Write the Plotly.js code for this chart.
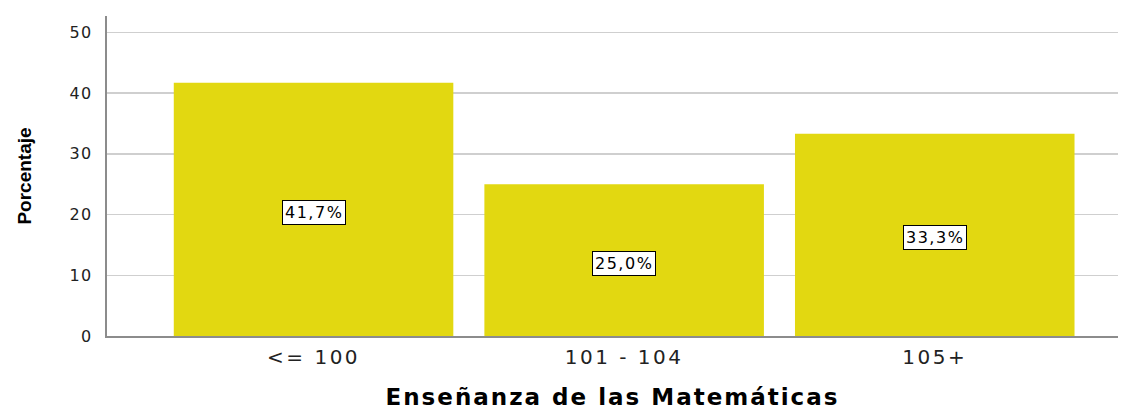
<!DOCTYPE html>
<html>
<head>
<meta charset="utf-8">
<script src="https://cdn.plot.ly/plotly-3.0.1.min.js"></script>
<style>
html,body{margin:0;padding:0;background:#fff;}
#chart{width:1131px;height:410px;}
text.annotation-text{letter-spacing:1.5px;}
.xtick text{letter-spacing:2.5px;}
.ytick text{letter-spacing:1.5px;}
text.xtitle{letter-spacing:2px;}
</style>
</head>
<body>
<div id="chart"></div>
<script>
const categories = ["<= 100", "101 - 104", "105+"];
const values = [41.7, 25.0, 33.3];
const labels = ["41,7%", "25,0%", "33,3%"];
const yTicks = [0, 10, 20, 30, 40, 50];

const trace = {
  type: 'bar',
  x: [0, 1, 2],
  y: values,
  width: 0.9,
  marker: {color: '#E2D811', line: {width: 0}},
  hoverinfo: 'none'
};

const annotations = values.map((v, i) => ({
  x: i, y: v / 2, xref: 'x', yref: 'y',
  text: labels[i], showarrow: false, yshift: -3,
  font: {family: 'DejaVu Sans, sans-serif', size: 16, color: '#000'},
  bgcolor: '#fff', bordercolor: '#000', borderwidth: 1, borderpad: 2
}));

const layout = {
  width: 1131, height: 410,
  margin: {l: 107, r: 13, t: 16, b: 73.5},
  paper_bgcolor: '#fff', plot_bgcolor: '#fff',
  showlegend: false,
  bargap: 0.1,
  xaxis: {
    range: [-0.665, 2.59],
    tickmode: 'array', tickvals: [0, 1, 2], ticktext: categories,
    showgrid: false, zeroline: false,
    showline: true, linecolor: '#8c8c8c', linewidth: 2,
    ticks: 'outside', ticklen: 2, tickcolor: 'rgba(0,0,0,0)',
    tickfont: {family: 'DejaVu Sans, sans-serif', size: 20, color: '#222'},
    title: {text: 'Enseñanza de las Matemáticas', standoff: 22,
      font: {family: 'DejaVu Sans, sans-serif', size: 23, color: '#000', weight: 'bold'}}
  },
  yaxis: {
    range: [0, 52.7],
    tickmode: 'array', tickvals: yTicks,
    showgrid: true, gridcolor: '#cfcfcf', gridwidth: 1.5,
    zeroline: false,
    showline: true, linecolor: '#8c8c8c', linewidth: 2,
    ticks: 'outside', ticklen: 9, tickcolor: 'rgba(0,0,0,0)',
    tickfont: {family: 'DejaVu Sans, sans-serif', size: 16, color: '#222'},
    title: {text: 'Porcentaje', standoff: 33,
      font: {family: 'Liberation Sans, Arial, sans-serif', size: 19, color: '#000', weight: 'bold'}}
  },
  annotations: annotations
};

Plotly.newPlot('chart', [trace], layout, {displayModeBar: false, staticPlot: true});
</script>
</body>
</html>
